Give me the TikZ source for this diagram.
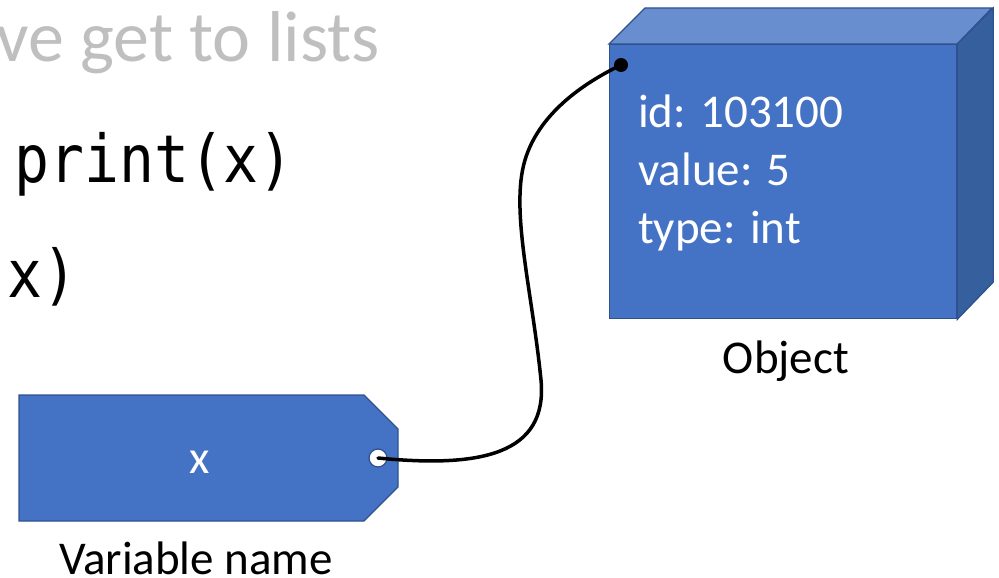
\documentclass[tikz,border=0pt]{standalone}
\usepackage{fontspec}
\setmainfont{Carlito}
\newfontfamily\codefont[FakeStretch=0.88]{DejaVu Sans Mono}
\definecolor{boxfill}{HTML}{4472C4}
\definecolor{boxedge}{HTML}{2F528F}
\definecolor{boxtop}{HTML}{698ED0}
\definecolor{boxside}{HTML}{365F9E}
\definecolor{faded}{HTML}{BFBFBF}
\tikzset{
  face/.style={fill=#1, draw=boxedge, line width=1.3pt, line join=miter},
  boxtext/.style={text=white, inner sep=0pt, font=\fontsize{47}{56}\selectfont},
  caption/.style={text=black, inner sep=0pt, font=\fontsize{47}{56}\selectfont},
  codeline/.style={text=black, inner sep=0pt, font=\codefont\fontsize{66}{78}\selectfont},
  link/.style={line width=3.5pt, black, line cap=round},
}
\begin{document}
\begin{tikzpicture}[x=1pt, y=-1pt]
\useasboundingbox (0,0) rectangle (999,578);

% faded heading and code lines
\node[inner sep=0pt, text=faded, font=\fontsize{72}{86}\selectfont, anchor=base east] (heading) at (380,62) {ve get to lists};
\node[codeline, anchor=base west] (code1) at (14,182) {print(x)};
\node[codeline, anchor=base west] (code2) at (7,297) {x)};

% object box drawn as a block
\node[face=boxfill, minimum width=347pt, minimum height=274pt, anchor=north west, inner sep=0pt] (obj) at (609,44) {};
\draw[face=boxtop] (obj.north west) -- ++(36,-36) -- ++(347,0) -- (obj.north east) -- cycle;
\draw[face=boxside] (obj.north east) -- ++(36,-36) -- ++(0,274) -- (obj.south east) -- cycle;
\node[boxtext, anchor=base west] (oid) at (638,128) {id: 103100};
\node[boxtext, anchor=base west] (oval) at (638,185.5) {value: 5};
\node[boxtext, anchor=base west] (otype) at (638,243) {type: int};
\node[caption, anchor=base] (objcap) at (786,373) {Object};
\node[circle, fill=black, inner sep=0pt, minimum size=14pt] (pin) at (621,65) {};

% name tag
\draw[face=boxfill] (19,395) -- (364,395) -- (398,429) -- (398,487) -- (364,521) -- (19,521) -- cycle;
\node[boxtext, anchor=base] (tagtext) at (200,473) {x};
\node[circle, fill=white, draw=boxedge, line width=1.3pt, inner sep=0pt, minimum size=18pt] (hole) at (378,458) {};
\node[caption, anchor=base] (tagcap) at (196,574) {Variable name};

% string from tag to object
\draw[link] (hole.center) .. controls (480,468) and (548,455) .. (541,380)
  .. controls (532,290) and (510,210) .. (525,160)
  .. controls (540,110) and (590,80) .. (pin.center);
\end{tikzpicture}
\end{document}
